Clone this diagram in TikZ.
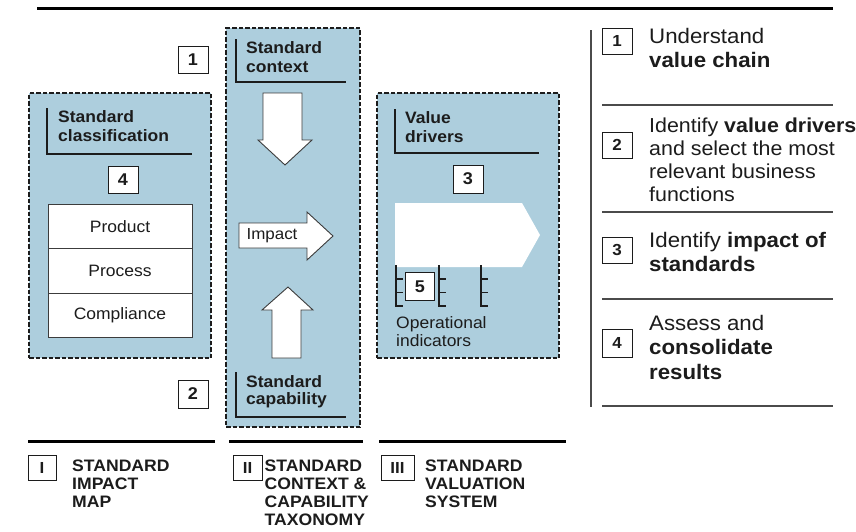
\documentclass[tikz,border=0pt]{standalone}
\usepackage{fontspec}
\setmainfont{Liberation Sans}[FakeStretch=1.06]

\definecolor{panel}{RGB}{173,206,221}
\definecolor{ink}{RGB}{28,28,28}
\definecolor{rulegray}{RGB}{75,75,75}
\definecolor{cellline}{RGB}{60,60,60}

\begin{document}
\begin{tikzpicture}[x=1pt,y=-1pt,
  panelbox/.style={draw=ink, fill=panel, line width=1.4pt, dash pattern=on 4.5pt off 2pt, inner sep=0pt},
  numbox/.style={draw=ink, fill=white, line width=0.9pt, minimum width=30pt, minimum height=27pt,
    inner sep=0pt, text=ink, font=\fontsize{17}{17}\selectfont\bfseries},
  stepbox/.style={numbox, minimum height=26pt, font=\fontsize{16}{16}\selectfont\bfseries},
  romanbox/.style={numbox, minimum height=25pt, font=\fontsize{16}{16}\selectfont\bfseries},
  hdr/.style={anchor=north west, align=left, inner sep=0pt, text=ink,
    font=\fontsize{16.5}{19}\selectfont\bfseries},
  bracket/.style={draw=ink, line width=2.2pt},
  cell/.style={draw=cellline, fill=white, line width=0.9pt, minimum width=144pt, minimum height=44.3pt,
    inner sep=0pt, text=ink, font=\fontsize{16.5}{16.5}\selectfont},
  blockarrow/.style={draw=cellline, fill=white, line width=0.9pt, line join=miter},
  tick/.style={draw=ink, line width=1.2pt},
  thickrule/.style={draw=black, line width=3pt},
  seprule/.style={draw=rulegray, line width=1.2pt},
  pillar/.style={anchor=north west, align=left, inner sep=0pt, text=ink,
    font=\fontsize{16.6}{18}\selectfont\bfseries},
  steptext/.style={anchor=north west, align=left, inner sep=0pt, text=ink,
    font=\fontsize{21}{23.5}\selectfont},
]
\useasboundingbox (0,0) rectangle (856,531);

% top rule
\draw[thickrule] (37,8) -- (833,8);

% ---------- three panels ----------
\node[panelbox, minimum width=182pt, minimum height=265pt] (impactmap) at (120,225.5) {};
\node[panelbox, minimum width=134pt, minimum height=399pt] (taxonomy) at (293,227.5) {};
\node[panelbox, minimum width=182pt, minimum height=265pt] (valuation) at (468,225.5) {};

% panel headers with L-shaped underline
\draw[bracket] (47,108) |- (192,154);
\node[hdr] (classhdr) at (58,110.5) {Standard\\classification};

\draw[bracket] (236,39) |- (346,82);
\node[hdr] (contexthdr) at (246,41.5) {Standard\\context};

\draw[bracket] (395,109) |- (539,153);
\node[hdr] (drivershdr) at (405,111.5) {Value\\drivers};

\draw[bracket] (236,372) |- (346,417);
\node[hdr, font=\fontsize{16.5}{17.5}\selectfont\bfseries] (capahdr) at (246,375) {Standard\\capability};

% step markers around the panels
\node[numbox] (m1) at (193,59.5) {1};
\node[numbox, minimum height=28pt] (m2) at (193,394) {2};
\node[numbox] (m4) at (123,179.5) {4};
\node[numbox, minimum height=28pt] (m3) at (468,179) {3};

% classification table
\node[cell] (product) at (120,226.5) {Product};
\node[cell] (process) at (120,270.8) {Process};
\node[cell] (compliance) at (120,315.1) {Compliance};

% block arrows in the middle panel
\draw[blockarrow] (263,93) -- (302,93) -- (302,140) -- (312,140) -- (285,165)
  -- (258,140) -- (263,140) -- cycle;
\draw[blockarrow] (239,223) -- (307,223) -- (307,212) -- (333,236) -- (307,260)
  -- (307,248) -- (239,248) -- cycle;
\node[inner sep=0pt, text=ink, font=\fontsize{16}{16}\selectfont] (impact) at (272,236) {Impact};
\draw[blockarrow] (272,358) -- (272,310) -- (262,310) -- (288,287) -- (313,310)
  -- (301,310) -- (301,358) -- cycle;

% value chain arrow
\fill[white] (395,203) -- (522,203) -- (540,235) -- (522,267) -- (395,267) -- cycle;

% operational indicator scales
\foreach \x in {396,439,481} {
  \draw[tick] (\x,265) -- (\x,306) -- (\x+7,306);
  \draw[tick] (\x,279) -- (\x+7,279);
  \draw[tick] (\x,292.5) -- (\x+7,292.5);
}
\node[numbox, minimum width=29pt, minimum height=28pt] (m5) at (420,286.5) {5};
\node[anchor=north west, align=left, inner sep=0pt, text=ink,
  font=\fontsize{16.5}{18}\selectfont] (opind) at (396,316.5) {Operational\\indicators};

% ---------- pillar captions ----------
\draw[thickrule] (28,441) -- (215,441);
\draw[thickrule] (229,441) -- (363,441);
\draw[thickrule] (379,441) -- (566,441);

\node[romanbox, minimum width=28pt] (r1) at (42,467.5) {I};
\node[pillar] (p1) at (72,459.5) {STANDARD\\IMPACT\\MAP};
\node[romanbox, minimum width=29pt] (r2) at (247.5,467.5) {II};
\node[pillar] (p2) at (264.5,459.5) {STANDARD\\CONTEXT \&\\CAPABILITY\\TAXONOMY};
\node[romanbox, minimum width=33pt] (r3) at (397.5,467.5) {III};
\node[pillar] (p3) at (425,459.5) {STANDARD\\VALUATION\\SYSTEM};

% ---------- step list ----------
\draw[seprule, line width=1.4pt] (591,30) -- (591,407);
\draw[seprule] (602,105) -- (833,105);
\draw[seprule] (602,212) -- (833,212);
\draw[seprule] (602,299) -- (833,299);
\draw[seprule] (602,406) -- (833,406);

\node[stepbox] (s1) at (617,41) {1};
\node[steptext] (t1) at (649,28.5) {Understand\\\textbf{value chain}};

\node[stepbox] (s2) at (617,145) {2};
\node[steptext, font=\fontsize{20.2}{23}\selectfont] (t2) at (649,117.5)
  {Identify \textbf{value drivers}\\and select the most\\relevant business\\functions};

\node[stepbox] (s3) at (617,250) {3};
\node[steptext] (t3) at (649,232.5) {Identify \textbf{impact of}\\\textbf{standards}};

\node[stepbox, minimum height=28pt] (s4) at (617,343) {4};
\node[steptext, font=\fontsize{21}{24.5}\selectfont] (t4) at (649,315)
  {Assess and\\\textbf{consolidate}\\\textbf{results}};

\end{tikzpicture}
\end{document}
